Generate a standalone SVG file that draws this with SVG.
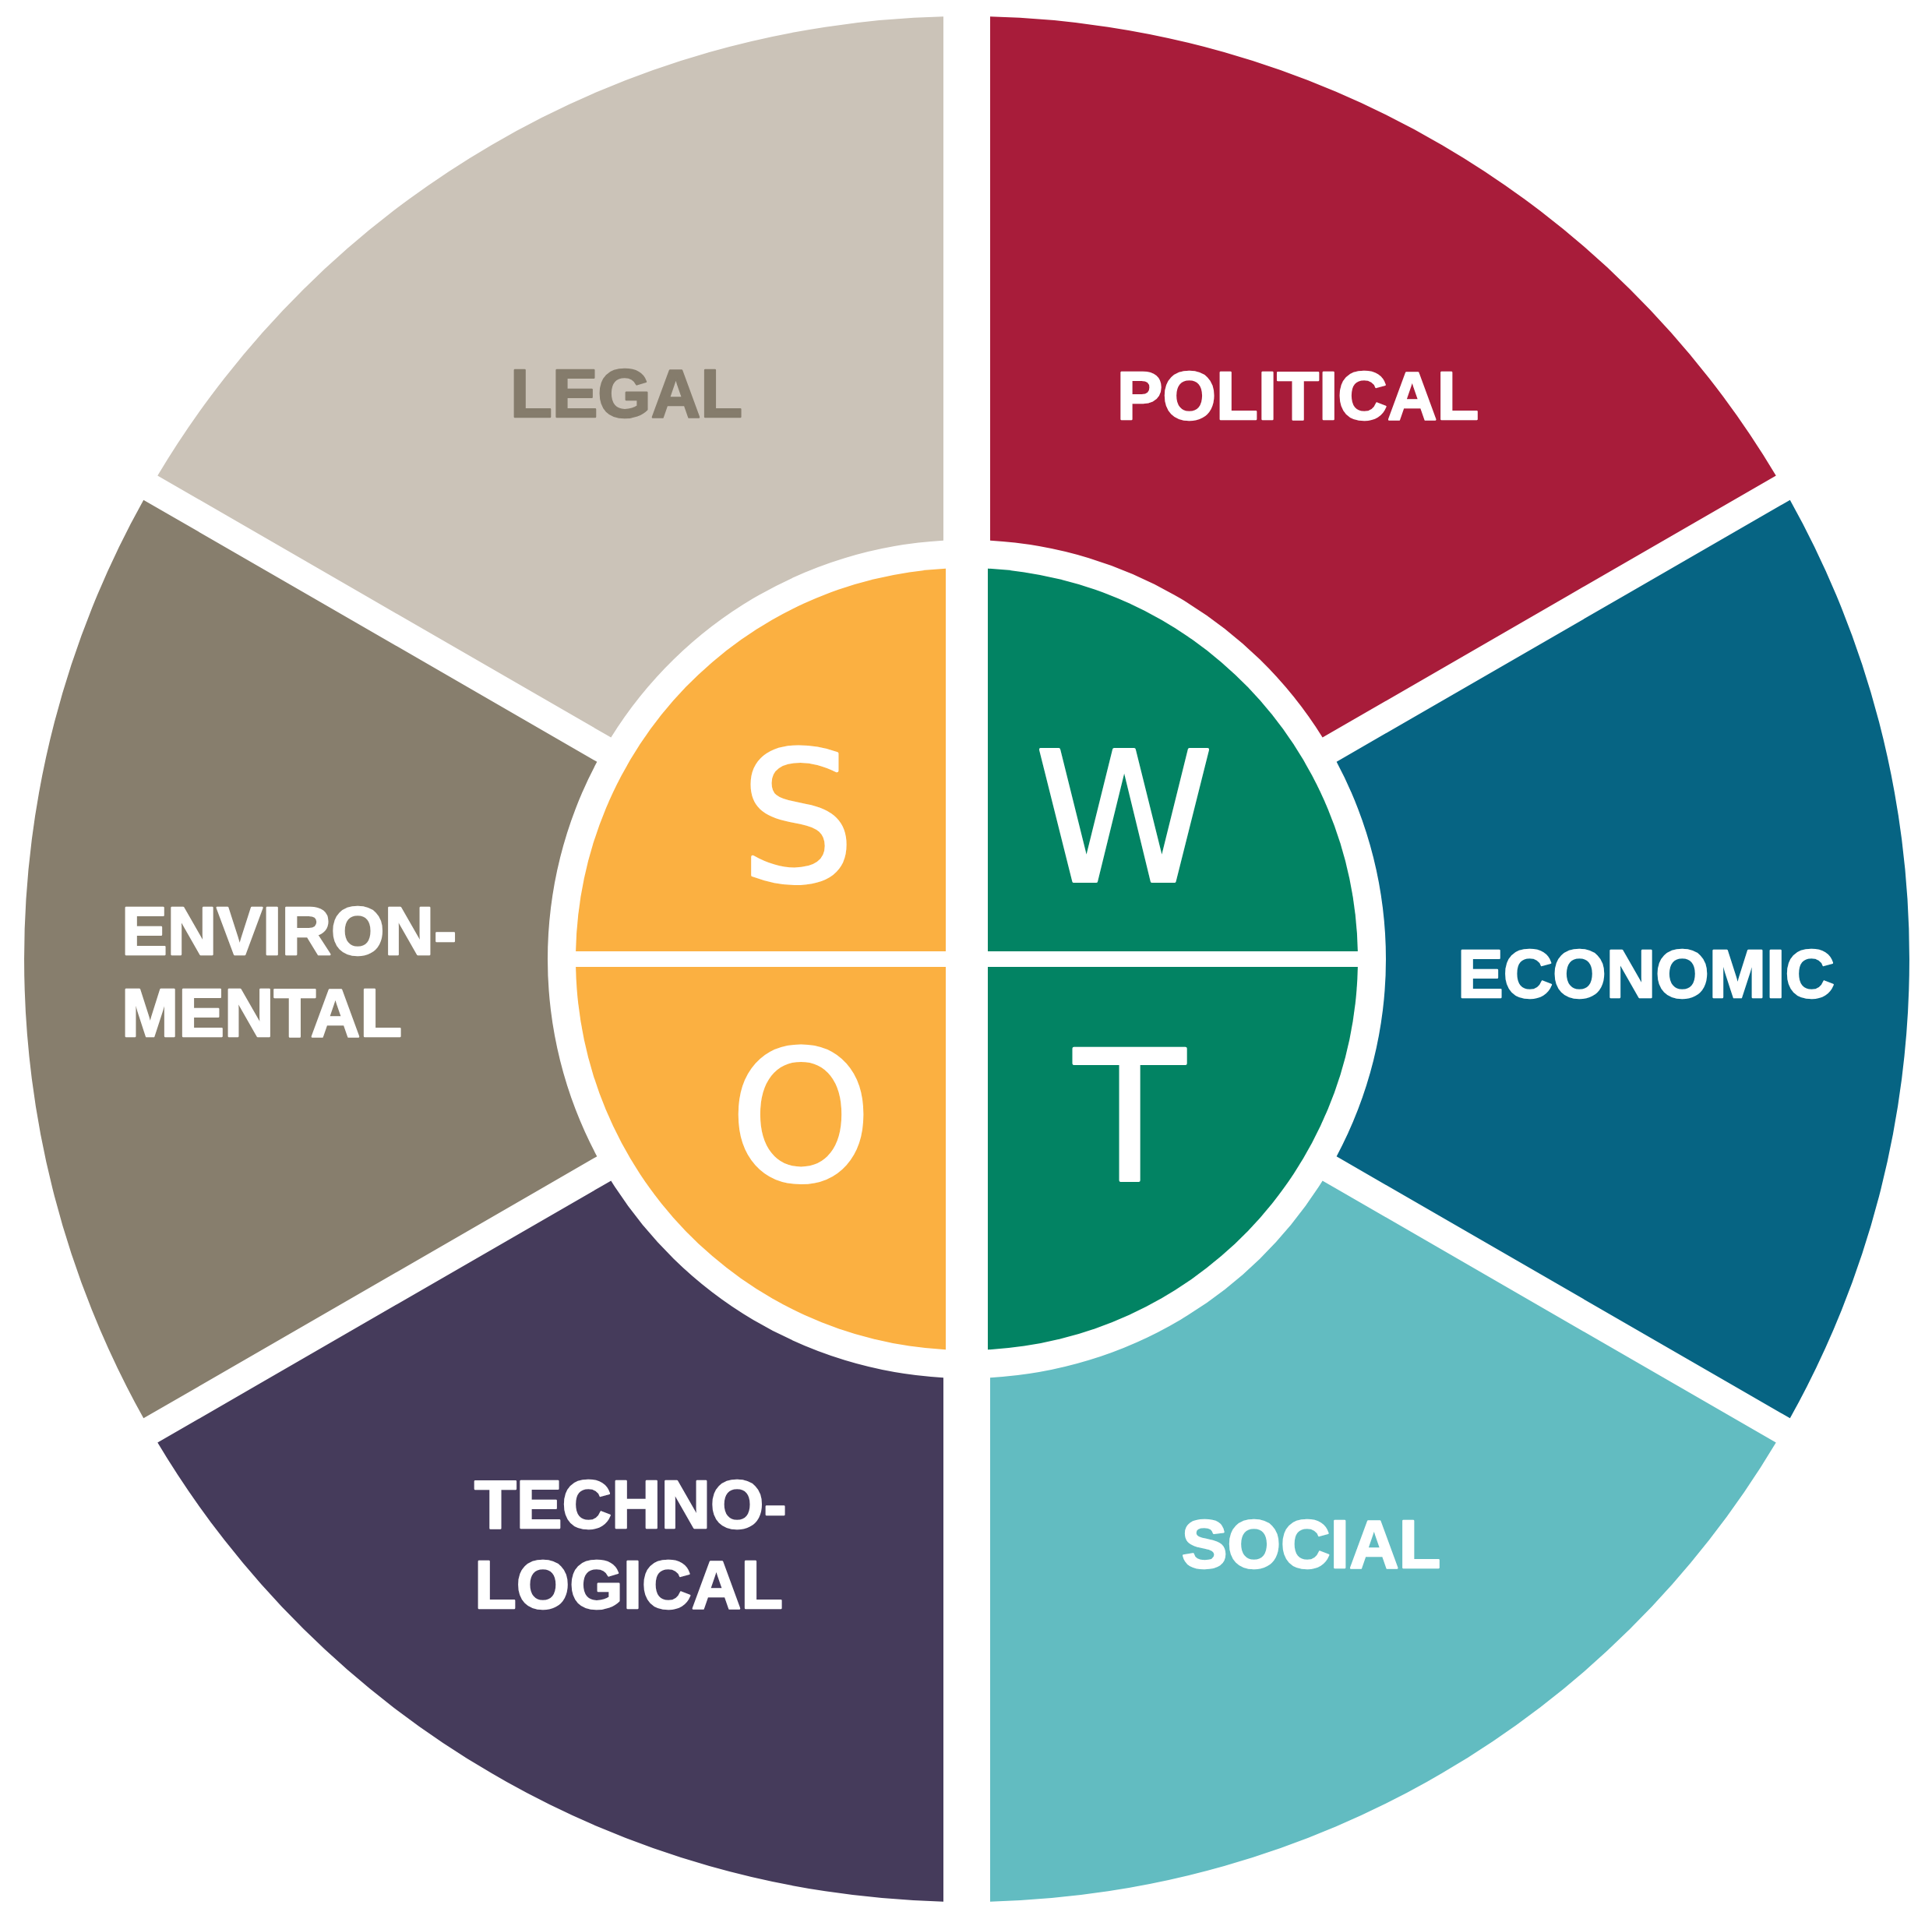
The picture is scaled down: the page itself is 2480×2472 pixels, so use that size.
<svg xmlns="http://www.w3.org/2000/svg" width="2480" height="2472" viewBox="0 0 2480 2472">
  <style>
    .lbl { font-family: "Liberation Sans", Arial, sans-serif; font-weight: 700; font-size: 88px; fill: #FFFFFF; stroke: #FFFFFF; stroke-width: 2.5px; stroke-linejoin: round; }
    .mid { text-anchor: middle; }
    .swot { font-family: "DejaVu Sans", "Liberation Sans", sans-serif; font-weight: 400; font-size: 232px; fill: #FFFFFF; stroke: #FFFFFF; stroke-width: 4px; stroke-linejoin: round; text-anchor: middle; }
  </style>
  <rect x="0" y="0" width="2480" height="2472" fill="#FFFFFF"/>

  <g id="sector-legal">
    <path d="M 202.26 610.48 A 1210 1210 0 0 1 1211 21.37 L 1211 693.84 A 538 538 0 0 0 784.34 946.56 Z" fill="#CBC3B8"/>
    <text class="lbl mid" x="804" y="535" style="fill:#857C6C;stroke:#857C6C">LEGAL</text>
  </g>

  <g id="sector-political">
    <path d="M 1271 21.37 A 1210 1210 0 0 1 2279.74 610.48 L 1697.66 946.56 A 538 538 0 0 0 1271 693.84 Z" fill="#A81C3A"/>
    <text class="lbl mid" x="1666" y="538">POLITICAL</text>
  </g>

  <g id="sector-economic">
    <path d="M 2297.74 641.66 A 1210 1210 0 0 1 2297.74 1820.34 L 1715.66 1484.26 A 538 538 0 0 0 1715.66 977.74 Z" fill="#066483"/>
    <text class="lbl mid" x="2113" y="1280">ECONOMIC</text>
  </g>

  <g id="sector-social">
    <path d="M 2279.74 1851.52 A 1210 1210 0 0 1 1271 2440.63 L 1271 1768.16 A 538 538 0 0 0 1697.66 1515.44 Z" fill="#62BCC1"/>
    <text class="lbl mid" x="1683" y="2012">SOCIAL</text>
  </g>

  <g id="sector-technological">
    <path d="M 1211 2440.63 A 1210 1210 0 0 1 202.26 1851.52 L 784.34 1515.44 A 538 538 0 0 0 1211 1768.16 Z" fill="#453B5B"/>
    <text class="lbl" x="609" y="1961">TECHNO-</text>
    <text class="lbl" x="609" y="2064">LOGICAL</text>
  </g>

  <g id="sector-environmental">
    <path d="M 184.26 1820.34 A 1210 1210 0 0 1 184.26 641.66 L 766.34 977.74 A 538 538 0 0 0 766.34 1484.26 Z" fill="#877E6D"/>
    <text class="lbl" x="156" y="1225">ENVIRON-</text>
    <text class="lbl" x="156" y="1330">MENTAL</text>
  </g>

  <g id="swot-s">
    <path d="M 1214 1221 L 1214 729.73 A 502 502 0 0 0 739.10 1221 Z" fill="#FBB041"/>
    <text class="swot" x="1024" y="1131">S</text>
  </g>

  <g id="swot-w">
    <path d="M 1268 1221 L 1742.90 1221 A 502 502 0 0 0 1268 729.73 Z" fill="#028363"/>
    <text class="swot" x="1443" y="1131">W</text>
  </g>

  <g id="swot-o">
    <path d="M 1214 1241 L 739.10 1241 A 502 502 0 0 0 1214 1732.27 Z" fill="#FBB041"/>
    <text class="swot" x="1028" y="1515">O</text>
  </g>

  <g id="swot-t">
    <path d="M 1268 1241 L 1268 1732.27 A 502 502 0 0 0 1742.90 1241 Z" fill="#028363"/>
    <text class="swot" x="1450" y="1515">T</text>
  </g>
</svg>
